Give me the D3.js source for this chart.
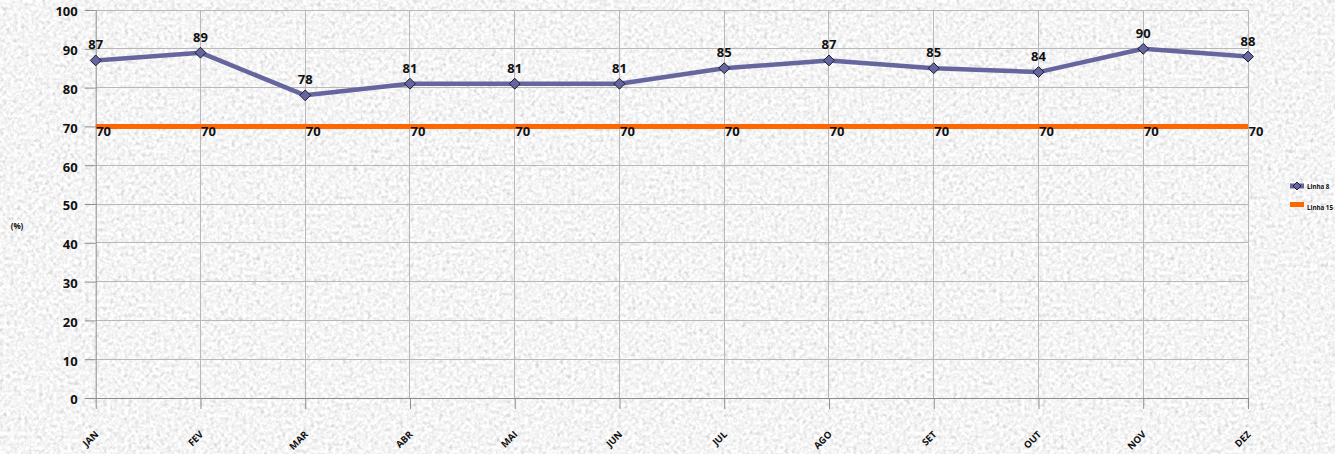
<!DOCTYPE html>
<html>
<head>
<meta charset="utf-8">
<script src="https://cdn.jsdelivr.net/npm/d3@7/dist/d3.min.js"></script>
<style>
  html, body { margin: 0; padding: 0; background: #e6e6e6; }
  svg { display: block; }
  text { font-family: "Open Sans", "Liberation Sans", sans-serif; font-weight: 700; fill: #111; }
</style>
</head>
<body>
<svg id="chart" width="1335" height="454"></svg>
<script>
// Monthly percentages for the two lines
const months = ["JAN", "FEV", "MAR", "ABR", "MAI", "JUN", "JUL", "AGO", "SET", "OUT", "NOV", "DEZ"];
const linha8 = [87, 89, 78, 81, 81, 81, 85, 87, 85, 84, 90, 88];
const linha15 = [70, 70, 70, 70, 70, 70, 70, 70, 70, 70, 70, 70];
const yTicks = [0, 10, 20, 30, 40, 50, 60, 70, 80, 90, 100];
const seriesNames = ["Linha 8", "Linha 15"];

const W = 1335, H = 454;
const svg = d3.select("#chart");

// Granite-like speckled background
const defs = svg.append("defs");
const f = defs.append("filter").attr("id", "granite")
  .attr("x", 0).attr("y", 0).attr("width", W).attr("height", H)
  .attr("filterUnits", "userSpaceOnUse");
f.append("feTurbulence").attr("type", "fractalNoise")
  .attr("baseFrequency", "0.28").attr("numOctaves", 3).attr("seed", 7).attr("result", "n");
f.append("feColorMatrix").attr("in", "n").attr("type", "matrix")
  .attr("values", "0.33 0.33 0.33 0 0  0.33 0.33 0.33 0 0  0.33 0.33 0.33 0 0  0 0 0 0 1")
  .attr("result", "g");
f.append("feComponentTransfer").attr("in", "g")
  .call(ct => {
    ["feFuncR", "feFuncG", "feFuncB"].forEach(fn =>
      ct.append(fn).attr("type", "linear").attr("slope", 1.05).attr("intercept", 0.39));
  });
svg.append("rect").attr("width", W).attr("height", H).attr("filter", "url(#granite)");

const x = d3.scalePoint().domain(months).range([95.7, 1248]);
const y = d3.scaleLinear().domain([0, 100]).range([398, 10]);

// Gridlines
const grid = svg.append("g").attr("stroke", "#b8b8b8").attr("stroke-width", 1).attr("shape-rendering", "crispEdges");
grid.selectAll(".h").data(yTicks.filter(d => d > 0)).join("line")
  .attr("x1", x.range()[0]).attr("x2", x.range()[1])
  .attr("y1", d => y(d)).attr("y2", d => y(d));
grid.selectAll(".v").data(months.slice(1)).join("line")
  .attr("x1", d => x(d)).attr("x2", d => x(d))
  .attr("y1", y(100)).attr("y2", y(0));

// Y axis
const yAxis = svg.append("g").attr("transform", `translate(${x.range()[0]},0)`)
  .call(d3.axisLeft(y).tickValues(yTicks).tickSize(11).tickPadding(7).tickSizeOuter(0));
yAxis.select(".domain").attr("stroke", "#8c8c8c");
yAxis.selectAll(".tick line").attr("stroke", "#8c8c8c");
yAxis.selectAll(".tick text").style("font-size", "13px").attr("dy", "0.45em");

// X axis
const xAxis = svg.append("g").attr("transform", `translate(0,${y(0)})`)
  .call(d3.axisBottom(x).tickSize(11).tickSizeOuter(0));
xAxis.select(".domain").attr("stroke", "#8c8c8c");
xAxis.selectAll(".tick line").attr("stroke", "#8c8c8c");
xAxis.selectAll(".tick text")
  .style("font-size", "9.5px")
  .attr("text-anchor", "end")
  .attr("y", 0).attr("dy", 0)
  .attr("transform", "translate(3,37) rotate(-45)");

// Axis title
svg.append("text").attr("x", 17).attr("y", 229).attr("text-anchor", "middle")
  .style("font-size", "8px").text("(%)");

// Linha 15 (target line)
const line = d3.line().x((d, i) => x(months[i])).y(d => y(d));
svg.append("path").datum(linha15).attr("d", line)
  .attr("fill", "none").attr("stroke", "#ff6600").attr("stroke-width", 5);

// Linha 8
svg.append("path").datum(linha8).attr("d", line)
  .attr("fill", "none").attr("stroke", "#66669e").attr("stroke-width", 4.5)
  .attr("stroke-linejoin", "round");
const diamond = d3.symbol().type(d3.symbolDiamond2).size(75);
svg.append("g").selectAll("path").data(linha8).join("path")
  .attr("d", diamond)
  .attr("transform", (d, i) => `translate(${x(months[i])},${y(d)})`)
  .attr("fill", "#66669e").attr("stroke", "#1a1a2e").attr("stroke-width", 1);

// Data labels
svg.append("g").selectAll("text").data(linha8).join("text")
  .attr("x", (d, i) => x(months[i])).attr("y", d => y(d) - 11)
  .attr("text-anchor", "middle").style("font-size", "13px").text(d => d);
svg.append("g").selectAll("text").data(linha15).join("text")
  .attr("x", (d, i) => x(months[i]) + 0.5).attr("y", d => y(d) + 10)
  .attr("text-anchor", "start").style("font-size", "13px").text(d => d);

// Legend
const lg = svg.append("g").attr("transform", "translate(1290,186)");
lg.append("rect").attr("x", 0).attr("y", -2.5).attr("width", 14).attr("height", 5).attr("fill", "#66669e");
lg.append("path").attr("d", d3.symbol().type(d3.symbolDiamond2).size(40)).attr("transform", "translate(7,0)")
  .attr("fill", "#66669e").attr("stroke", "#1a1a2e").attr("stroke-width", 1);
lg.append("text").attr("x", 17).attr("y", 3).style("font-size", "6.2px").text(seriesNames[0]);
lg.append("rect").attr("x", 0).attr("y", 16).attr("width", 14).attr("height", 5).attr("fill", "#ff6600");
lg.append("text").attr("x", 17).attr("y", 24).style("font-size", "6.2px").text(seriesNames[1]);
</script>
</body>
</html>
